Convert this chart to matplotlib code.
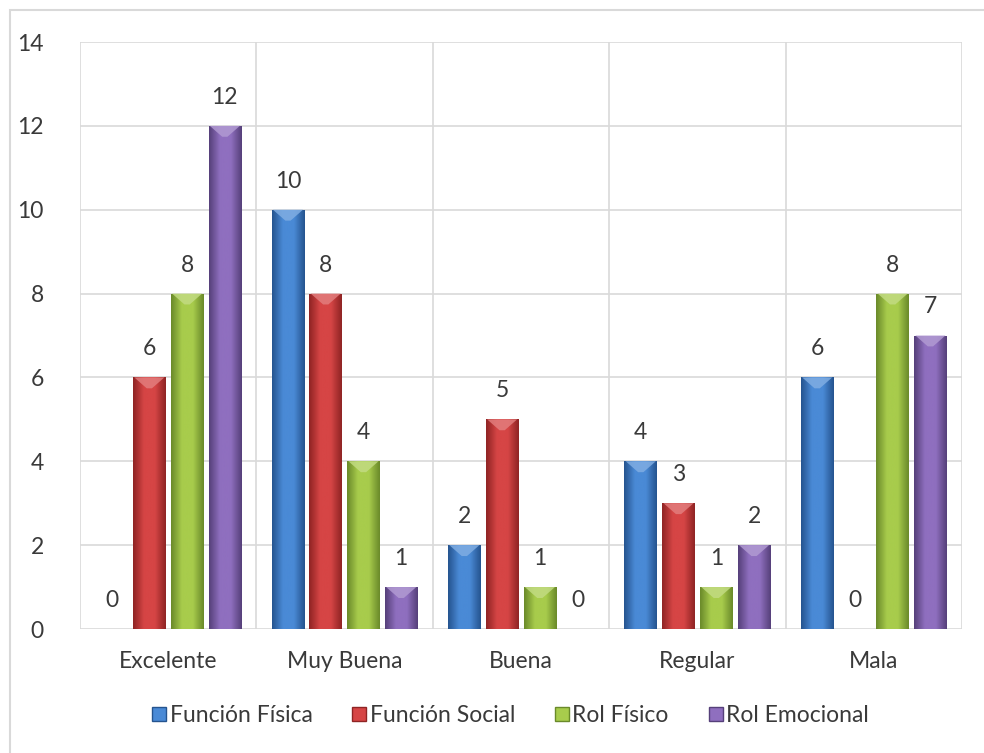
import numpy as np
import matplotlib
matplotlib.use('Agg')
import matplotlib.pyplot as plt
from matplotlib.colors import LinearSegmentedColormap, to_rgb
from matplotlib.patches import Polygon, Rectangle
from matplotlib.lines import Line2D

plt.rcParams['font.family'] = ['Lato', 'DejaVu Sans']

categorias = ['Excelente', 'Muy Buena', 'Buena', 'Regular', 'Mala']
series = ['Función Física', 'Función Social', 'Rol Físico', 'Rol Emocional']
funcion_fisica = [0, 10, 2, 4, 6]
funcion_social = [6, 8, 5, 3, 0]
rol_fisico = [8, 4, 1, 1, 8]
rol_emocional = [12, 1, 0, 2, 7]
valores = [funcion_fisica, funcion_social, rol_fisico, rol_emocional]
yticks = [0, 2, 4, 6, 8, 10, 12, 14]

# color base por serie (oscuro, claro)
colores = [
    ('#25548f', '#4a8ad6'),
    ('#8f2424', '#d64545'),
    ('#6a8a2a', '#a8cc4c'),
    ('#56407a', '#8f6fbf'),
]
texto = '#3a3a3a'
rejilla = '#d9d9d9'
tam = 16.5


def aclarar(c, blanco=0.35):
    r = np.array(to_rgb(c))
    return tuple(r + (1 - r) * blanco)


fig = plt.figure(figsize=(9.84, 7.53), dpi=100)
fig.patch.set_facecolor('white')
# marco exterior del gráfico
fig.add_artist(Rectangle((10 / 984, -0.1), 1.2, (753 - 10) / 753 + 0.1,
                         transform=fig.transFigure, fill=False,
                         edgecolor='#d9d9d9', linewidth=1.5))

ax = fig.add_axes([80 / 984, (753 - 629) / 753, (962 - 80) / 984, (629 - 42) / 753])

n = len(series)
paso = 0.214
ancho = 0.185
x = np.arange(len(categorias))
grad = np.linspace(0, 1, 64).reshape(1, -1)

for i, (vals, (oscuro, claro)) in enumerate(zip(valores, colores)):
    pos = x + (i - (n - 1) / 2) * paso
    barras = ax.bar(pos, vals, ancho, color=oscuro, edgecolor='none', zorder=3)
    cmap = LinearSegmentedColormap.from_list(f's{i}', [oscuro, claro, claro, oscuro])
    for b, v in zip(barras, vals):
        x0 = b.get_x()
        if v > 0:
            im = ax.imshow(grad, cmap=cmap, aspect='auto', zorder=3.5,
                           extent=(x0, x0 + ancho, 0, v), interpolation='bicubic')
            im.set_clip_path(b)
            # bisel claro en la parte superior
            bisel = 0.26
            tri = Polygon([(x0 + ancho * 0.04, v), (x0 + ancho * 0.96, v),
                           (x0 + ancho * 0.58, v - bisel), (x0 + ancho * 0.42, v - bisel)],
                          closed=True, facecolor=aclarar(claro, 0.3),
                          edgecolor='none', alpha=0.85, zorder=4)
            ax.add_patch(tri)
        ax.text(x0 + ancho / 2, v + 0.68, str(v), ha='center', va='center',
                fontsize=tam, color=texto, zorder=5)

ax.set_xlim(-0.5, len(categorias) - 0.5)
ax.set_ylim(0, 14)
ax.set_yticks(yticks)
ax.set_yticklabels([str(t) for t in yticks])
ax.set_xticks(x)
ax.set_xticklabels(categorias)
ax.tick_params(axis='both', length=0, labelsize=tam, labelcolor=texto)
ax.tick_params(axis='y', pad=26)
ax.tick_params(axis='x', pad=16)

for t in yticks:
    ax.axhline(t, color=rejilla, linewidth=1.2, zorder=1)
for xv in np.arange(-0.5, len(categorias), 1.0):
    ax.axvline(xv, color=rejilla, linewidth=1.2, zorder=1)
for s in ax.spines.values():
    s.set_visible(False)

handles = [Line2D([], [], marker='s', linestyle='none', markersize=10,
                  markerfacecolor=claro, markeredgecolor=oscuro, markeredgewidth=1)
           for oscuro, claro in colores]
fig.legend(handles, series, loc='center', bbox_to_anchor=(0.516, 1 - 716 / 753),
           ncol=4, frameon=False, fontsize=tam, handletextpad=-0.1,
           handlelength=1.1, columnspacing=1.5, labelcolor=texto)

fig.savefig('out.png', dpi=100, facecolor='white')
